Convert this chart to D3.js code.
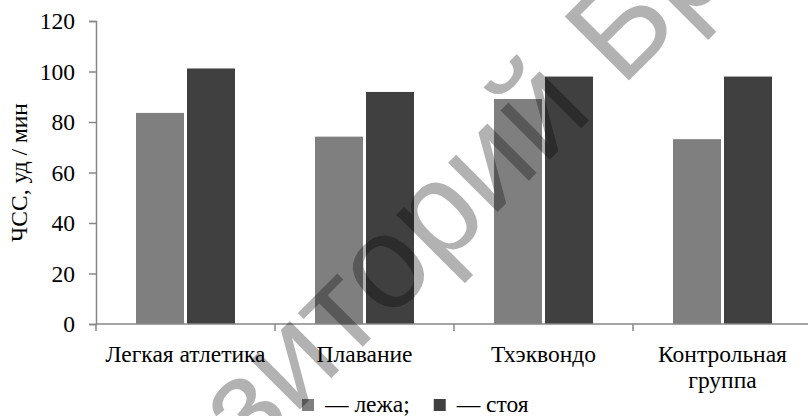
<!DOCTYPE html>
<html>
<head>
<meta charset="utf-8">
<script src="https://cdn.jsdelivr.net/npm/d3@7"></script>
<style>
  html, body { margin: 0; padding: 0; background: #fff; }
  svg { display: block; }
  text { font-family: "Liberation Serif", "Times New Roman", serif; fill: #000; }
</style>
</head>
<body>
<svg id="chart" width="808" height="416"></svg>
<script>
// ---- data ----
const categories = ["Легкая атлетика", "Плавание", "Тхэквондо", "Контрольная\nгруппа"];
const seriesNames = ["— лежа;", "— стоя"];
const lying = [83.6, 74.2, 89.1, 73.2];
const standing = [101.2, 91.9, 98.0, 98.0];
const yTicks = [0, 20, 40, 60, 80, 100, 120];
const yTitle = "ЧСС, уд / мин";
const watermarkText = "Репозиторий БрГУ";

// ---- layout / style ----
const W = 808, H = 416;
const plot = { left: 96, right: 812, top: 21, bottom: 324 };
const colors = ["#7f7f7f", "#404040"];
const axisColor = "#878787";
const fs = 23.5;

const svg = d3.select("#chart");

const x0 = d3.scaleBand().domain(categories).range([plot.left, plot.right]).padding(0);
const x1 = d3.scaleBand().domain([0, 1]).range([0, x0.bandwidth()]).paddingInner(0).paddingOuter(0.755);
const y = d3.scaleLinear().domain([0, 120]).range([plot.bottom, plot.top]);

const values = [lying, standing];

// bars
const gBars = svg.append("g");
categories.forEach((c, i) => {
  values.forEach((vals, s) => {
    gBars.append("rect")
      .attr("x", x0(c) + x1(s) + 1.5)
      .attr("width", x1.bandwidth() - 3)
      .attr("y", y(vals[i]))
      .attr("height", y(0) - y(vals[i]))
      .attr("fill", colors[s]);
  });
});

// y axis
const yAxis = d3.axisLeft(y).tickValues(yTicks).tickSize(7).tickPadding(14).tickFormat(d3.format("d"));
const gy = svg.append("g").attr("transform", `translate(${plot.left},0)`).call(yAxis);
gy.select(".domain").attr("stroke", axisColor).attr("stroke-width", 1.5);
gy.selectAll(".tick line").attr("stroke", axisColor).attr("stroke-width", 1.5);
gy.selectAll(".tick text").attr("font-size", fs).attr("font-family", "Liberation Serif").attr("fill", "#000");

// x axis line + boundary ticks
const gx = svg.append("g");
gx.append("line")
  .attr("x1", plot.left).attr("x2", plot.right)
  .attr("y1", y(0)).attr("y2", y(0))
  .attr("stroke", axisColor).attr("stroke-width", 1.5);
const bounds = categories.map(c => x0(c)).concat([x0.range()[1]]);
gx.selectAll(".xt").data(bounds).enter().append("line")
  .attr("x1", d => d).attr("x2", d => d)
  .attr("y1", y(0)).attr("y2", y(0) + 7)
  .attr("stroke", axisColor).attr("stroke-width", 1.5);

// category labels
categories.forEach(c => {
  const lines = c.split("\n");
  const t = gx.append("text")
    .attr("text-anchor", "middle")
    .attr("font-size", fs)
    .attr("x", x0(c) + x0.bandwidth() / 2)
    .attr("y", 362);
  lines.forEach((ln, k) => {
    t.append("tspan").attr("x", x0(c) + x0.bandwidth() / 2).attr("dy", k === 0 ? 0 : 26).text(ln);
  });
});

// y title
svg.append("text")
  .attr("transform", `translate(27,${(plot.top + plot.bottom) / 2}) rotate(-90)`)
  .attr("text-anchor", "middle")
  .attr("font-size", fs)
  .text(yTitle);

// legend
const lg = svg.append("g");
let lx = 302;
seriesNames.forEach((name, s) => {
  lg.append("rect").attr("x", lx).attr("y", 399).attr("width", 12).attr("height", 12).attr("fill", colors[s]);
  const t = lg.append("text").attr("x", lx + 23).attr("y", 412).attr("font-size", fs).text(name);
  lx = lx + 23 + t.node().getComputedTextLength() + 24;
});

// watermark
const wfs = 132;
const wm = svg.append("text")
  .style("font-family", "'Liberation Sans', Arial, sans-serif")
  .attr("font-size", wfs)
  .attr("fill", "#000")
  .attr("fill-opacity", 0.3)
  .attr("x", 0).attr("y", 0)
  .text(watermarkText);
const node = wm.node();
const cx = node.getSubStringLength(0, 7) + node.getSubStringLength(7, 1) / 2;
wm.attr("transform", `translate(389,272) rotate(-45) translate(${-cx},${0.26 * wfs})`);
</script>
</body>
</html>
